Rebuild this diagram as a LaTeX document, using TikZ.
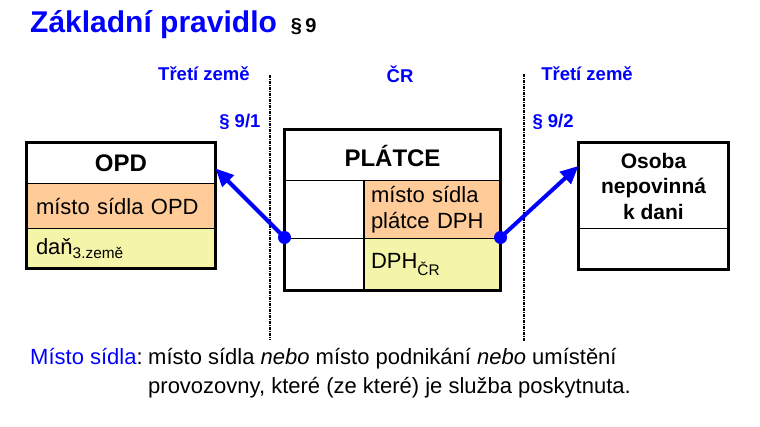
\documentclass[tikz,border=0pt]{standalone}
\usepackage{fontspec}
\setmainfont{Liberation Sans}
\usetikzlibrary{arrows.meta}
\definecolor{sidlo}{RGB}{255,204,153}
\definecolor{dan}{RGB}{245,245,170}
\begin{document}
\begin{tikzpicture}[x=1pt,y=-1pt,
    cell/.style={draw, line width=1pt, inner sep=0pt, fill=white},
    head/.style={font=\fontsize{24}{28}\selectfont\bfseries},
    body/.style={font=\fontsize{22}{26}\selectfont, align=left},
    frame/.style={draw, line width=3pt},
    lbl/.style={text=blue, font=\fontsize{18.5}{22}\selectfont\bfseries},
    note/.style={anchor=base west, inner sep=0pt, font=\fontsize{22}{28}\selectfont},
    link/.style={blue, line width=4pt, -{Triangle[length=18pt,width=16pt]}},
    border/.style={line width=1.5pt, dash pattern=on 3pt off 1pt on 1pt off 1pt}]

    \useasboundingbox (0,0) rectangle (760,427);

    % nadpis
    \node[anchor=base west, inner sep=0pt, text=blue,
          font=\fontsize{30}{34}\selectfont\bfseries] (title) at (30,33)
        {Základní pravidlo {\color{black}\fontsize{20}{24}\selectfont\ \S\,9}};

    % hranice zemí
    \draw[border] (270,75) -- (270,340);
    \draw[border] (524,74) -- (524,342);
    \node[lbl] (tretiL) at (204,74) {Třetí země};
    \node[lbl] (cr) at (400,74) {ČR};
    \node[lbl] (tretiR) at (587,74) {Třetí země};
    \node[lbl, anchor=east] (par91) at (264,122) {\S\ 9/1};
    \node[lbl, anchor=west] (par92) at (529,122) {\S\ 9/2};

    % OPD
    \node[cell, head, minimum width=188, minimum height=41] (opd) at (121,163.5) {OPD};
    \node[cell, body, fill=sidlo, minimum width=188, minimum height=45, text width=170] (opdsidlo) at (121,206.5) {místo sídla OPD};
    \node[cell, body, fill=dan, minimum width=188, minimum height=39, text width=170] (opddan) at (121,248.5) {daň\textsubscript{3.země}};
    \draw[frame] (opd.north west) rectangle (opddan.south east);

    % PLÁTCE
    \node[cell, head, minimum width=215, minimum height=51] (platce) at (392.5,155.5) {PLÁTCE};
    \node[cell, minimum width=78, minimum height=58] (platceA) at (324,210) {};
    \node[cell, minimum width=78, minimum height=51] (platceB) at (324,264.5) {};
    \node[cell, body, fill=sidlo, minimum width=137, minimum height=58, text width=121] (platcesidlo) at (431.5,210) {místo sídla\\plátce DPH};
    \node[cell, body, fill=dan, minimum width=137, minimum height=51, text width=121] (platcedph) at (431.5,264.5) {DPH\textsubscript{ČR}};
    \draw[line width=2pt] (platceA.north east) -- (platceB.south east);
    \draw[frame] (platce.north west) rectangle (platcedph.south east);

    % Osoba nepovinná k dani
    \node[cell, font=\fontsize{21}{25.5}\selectfont\bfseries, align=center, minimum width=149, minimum height=86] (osoba) at (653.5,186) {Osoba\\nepovinná\\k dani};
    \node[cell, minimum width=149, minimum height=40] (osobaB) at (653.5,249) {};
    \draw[frame] (osoba.north west) rectangle (osobaB.south east);

    % šipky
    \coordinate (dotL) at ([yshift=2pt]platceA.south west);
    \coordinate (dotR) at ([yshift=2pt]platcesidlo.south east);
    \draw[link] (dotL) -- (opd.-3);
    \draw[link] (dotR) -- (osoba.165);
    \fill[blue] (dotL) circle (6.5);
    \fill[blue] (dotR) circle (6.5);

    % poznámka
    \node[note] (misto) at (30,365) {{\color{blue}Místo sídla}:};
    \node[note] (mistotext) at (148,365)
        {místo sídla \textit{nebo} místo podnikání \textit{nebo} umístění};
    \node[note] (mistotext2) at (148,393)
        {provozovny, které (ze které) je služba poskytnuta.};
\end{tikzpicture}
\end{document}
